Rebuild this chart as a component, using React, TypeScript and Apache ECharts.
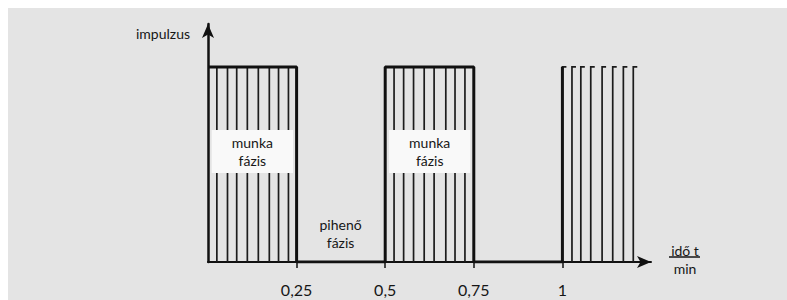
import React, { useEffect, useRef } from 'react';
import * as echarts from 'echarts';

// x-axis tick values and their printed labels
const tickValues = [0.25, 0.5, 0.75, 1];
const tickLabels = ['0,25', '0,5', '0,75', '1'];

// square-wave envelope (work / rest phases)
const pulseX = [0, 0.25, 0.25, 0.5, 0.5, 0.75, 0.75, 1, 1];
const pulseY = [1, 1, 0, 0, 1, 1, 0, 0, 1];

// individual impulses (thin vertical lines)
const impulsesWork1 = [0.025, 0.055, 0.081, 0.111, 0.142, 0.173, 0.199, 0.227];
const impulsesWork2 = [0.525, 0.552, 0.58, 0.61, 0.638, 0.671, 0.697, 0.725];
const impulsesNext = [1.0, 1.027, 1.052, 1.08, 1.112, 1.142, 1.172, 1.2];

// "munka fázis" label boxes
const boxStart = [0.0105, 0.511];
const boxEnd = [0.24, 0.74];
const boxLow = [0.456, 0.456];
const boxHigh = [0.677, 0.677];
const boxLabels = ['munka\nfázis', 'munka\nfázis'];

// rest-phase label
const restLabel = 'pihenő\nfázis';
const restPos = [0.374, 0.144];

const yAxisName = 'impulzus';
const xAxisNameTop = 'idő t';
const xAxisNameBottom = 'min';

const INK = '#111111';
const TEXT = '#161616';
const FONT = 'Lato, "Noto Sans", sans-serif';

export default function App() {
  const ref = useRef<HTMLDivElement>(null);

  useEffect(() => {
    if (!ref.current) return;
    const chart = echarts.init(ref.current, undefined, { renderer: 'svg' });

    const impulseData: number[][] = [
      ...impulsesWork1.map((x) => [x, 0]),
      ...impulsesWork2.map((x) => [x, 0]),
      ...impulsesNext.map((x) => [x, 1]),
    ];
    const boxData = boxStart.map((x0, i) => [x0, boxEnd[i], boxLow[i], boxHigh[i], i]);

    chart.setOption({
      animation: false,
      backgroundColor: '#e4e4e4',
      grid: { left: 200, right: 136, top: 16, bottom: 38, containLabel: false },
      xAxis: {
        type: 'value',
        min: 0,
        max: 1.25,
        splitLine: { show: false },
        axisLine: {
          show: true,
          onZero: false,
          symbol: ['none', 'arrow'],
          symbolSize: [9, 14],
          lineStyle: { color: INK, width: 2 },
        },
        axisTick: {
          show: true,
          customValues: tickValues,
          length: 6,
          lineStyle: { color: INK, width: 1.5 },
        },
        axisLabel: {
          show: true,
          customValues: tickValues,
          margin: 19,
          color: TEXT,
          fontSize: 16,
          fontFamily: FONT,
          formatter: (v: number) => {
            const i = tickValues.findIndex((t) => Math.abs(t - v) < 1e-9);
            return i >= 0 ? tickLabels[i] : '';
          },
        },
      },
      yAxis: {
        type: 'value',
        min: 0,
        max: 1.22,
        splitLine: { show: false },
        axisTick: { show: false },
        axisLabel: { show: false },
        axisLine: {
          show: true,
          symbol: ['none', 'arrow'],
          symbolSize: [9, 14],
          lineStyle: { color: INK, width: 2.5 },
        },
      },
      graphic: [
        {
          type: 'text',
          x: 182,
          y: 25,
          style: {
            text: yAxisName,
            fill: TEXT,
            font: `14px ${FONT}`,
            align: 'right',
            verticalAlign: 'middle',
          },
        },
        {
          type: 'text',
          x: 677,
          y: 242,
          style: {
            text: xAxisNameTop,
            fill: TEXT,
            font: `14px ${FONT}`,
            align: 'center',
            verticalAlign: 'middle',
          },
        },
        {
          type: 'line',
          shape: { x1: 661, y1: 249, x2: 692, y2: 249 },
          style: { stroke: TEXT, lineWidth: 1.5 },
        },
        {
          type: 'text',
          x: 677,
          y: 260,
          style: {
            text: xAxisNameBottom,
            fill: TEXT,
            font: `14px ${FONT}`,
            align: 'center',
            verticalAlign: 'middle',
          },
        },
      ],
      series: [
        {
          type: 'custom',
          name: 'impulzusok',
          z: 2,
          data: impulseData,
          renderItem: (params: any, api: any) => {
            const x = api.value(0);
            const cap = api.value(1);
            const p0 = api.coord([x, 0]);
            const p1 = api.coord([x, 1]);
            const points = cap ? [p0, p1, [p1[0] + 4, p1[1]]] : [p0, p1];
            return {
              type: 'polyline',
              shape: { points },
              style: { stroke: '#1c1c1c', lineWidth: 1.7, fill: null },
            };
          },
        },
        {
          type: 'custom',
          name: 'fazis',
          z: 3,
          data: boxData,
          renderItem: (params: any, api: any) => {
            const a = api.coord([api.value(0), api.value(3)]);
            const b = api.coord([api.value(1), api.value(2)]);
            const idx = api.value(4);
            return {
              type: 'group',
              children: [
                {
                  type: 'rect',
                  shape: { x: a[0], y: a[1], width: b[0] - a[0], height: b[1] - a[1] },
                  style: { fill: '#f9f9f9' },
                },
                {
                  type: 'text',
                  x: (a[0] + b[0]) / 2,
                  y: (a[1] + b[1]) / 2,
                  style: {
                    text: boxLabels[idx],
                    fill: TEXT,
                    font: `14px ${FONT}`,
                    lineHeight: 18,
                    align: 'center',
                    verticalAlign: 'middle',
                  },
                },
              ],
            };
          },
        },
        {
          type: 'custom',
          name: 'pihenő',
          z: 3,
          data: [restPos],
          renderItem: (params: any, api: any) => {
            const p = api.coord([api.value(0), api.value(1)]);
            return {
              type: 'text',
              x: p[0],
              y: p[1],
              style: {
                text: restLabel,
                fill: TEXT,
                font: `14px ${FONT}`,
                lineHeight: 18,
                align: 'center',
                verticalAlign: 'middle',
              },
            };
          },
        },
        {
          type: 'line',
          name: 'burkoló',
          z: 4,
          symbol: 'none',
          data: pulseX.map((x, i) => [x, pulseY[i]]),
          lineStyle: { color: INK, width: 3 },
        },
      ],
    });

    return () => chart.dispose();
  }, []);

  return (
    <div
      ref={ref}
      style={{ position: 'absolute', left: 8, top: 8, width: 779, height: 292 }}
    />
  );
}
